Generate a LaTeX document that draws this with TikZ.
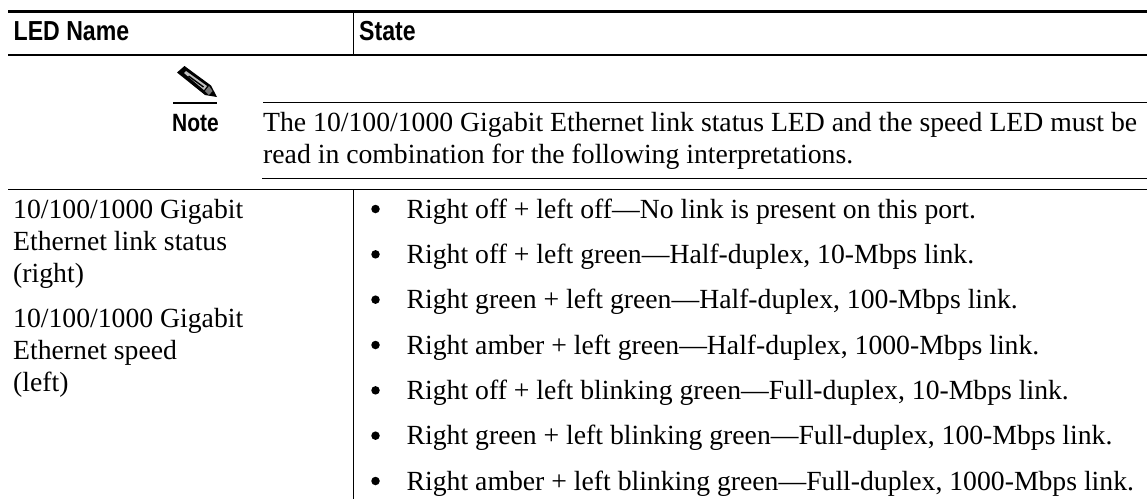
\documentclass[tikz,border=0pt]{standalone}
\usepackage{fontspec}
\setmainfont{Liberation Serif}
\newfontfamily\headfont[FakeStretch=0.84]{Liberation Sans}
\begin{document}
\begin{tikzpicture}[x=1pt,y=-1pt,
  rowtext/.style={anchor=base west,inner sep=0pt,font=\fontsize{27.7}{32}\selectfont},
  headtext/.style={anchor=base west,inner sep=0pt,font=\headfont\bfseries\fontsize{27.5}{32}\selectfont},
  notehead/.style={anchor=base west,inner sep=0pt,font=\headfont\bfseries\fontsize{25}{30}\selectfont},
  rulethin/.style={line width=1.2pt,black},
  bulletdot/.style={circle,fill=black,inner sep=0pt,minimum size=8.5pt}]
\useasboundingbox (0,0) rectangle (1147,499);
\fill[white] (0,0) rectangle (1147,499);
% rules
\draw[line width=3pt] (8,11.5) -- (1147,11.5);
\draw[rulethin] (8,55) -- (1147,55);
\draw[rulethin] (353.5,12) -- (353.5,55);
\draw[rulethin] (263,102.5) -- (1147,102.5);
\draw[line width=2pt] (173,103) -- (217,103);
\draw[rulethin] (262,178.5) -- (1147,178.5);
\draw[rulethin] (8,189.5) -- (1147,189.5);
\draw[rulethin] (353.5,189.5) -- (353.5,499);
% pencil
\fill[black] (177,72.5) -- (184.5,66) -- (211,85.5) -- (217,97) -- (205,95) -- cycle;
\fill[white!75!black] (184,73) -- (186,71) -- (207,86) -- (204,90) -- cycle;
\fill[black] (188,76.5) -- (189,75.5) -- (204,86.5) -- (203,87.5) -- cycle;
\fill[white!45!black] (205,91) -- (209,86) -- (212.5,91) -- (209,95) -- cycle;
% header
\node[headtext] (h1) at (13.5,40) {LED Name};
\node[headtext] (h2) at (359,40) {State};
\node[notehead] (note) at (172,131) {Note};
% note text
\node[rowtext] (n1) at (263,131) {The 10/100/1000 Gigabit Ethernet link status LED and the speed LED must be};
\node[rowtext] (n2) at (263,163) {read in combination for the following interpretations.};
% left column
\node[rowtext] (l1) at (13,218) {10/100/1000 Gigabit};
\node[rowtext] (l2) at (13,250) {Ethernet link status};
\node[rowtext] (l3) at (13,282) {(right)};
\node[rowtext] (l4) at (13,327) {10/100/1000 Gigabit};
\node[rowtext] (l5) at (13,359) {Ethernet speed};
\node[rowtext] (l6) at (13,391) {(left)};
% bullets
\foreach \yy/\tt in {
 218/{Right off + left off---No link is present on this port.},
 263.33/{Right off + left green---Half-duplex, 10-Mbps link.},
 308.67/{Right green + left green---Half-duplex, 100-Mbps link.},
 354/{Right amber + left green---Half-duplex, 1000-Mbps link.},
 399.33/{Right off + left blinking green---Full-duplex, 10-Mbps link.},
 444.67/{Right green + left blinking green---Full-duplex, 100-Mbps link.},
 490/{Right amber + left blinking green---Full-duplex, 1000-Mbps link.}}{
  \node[bulletdot] at (375.5,\yy-9) {};
  \node[rowtext] at (406.5,\yy) {\tt};
}
\end{tikzpicture}
\end{document}
